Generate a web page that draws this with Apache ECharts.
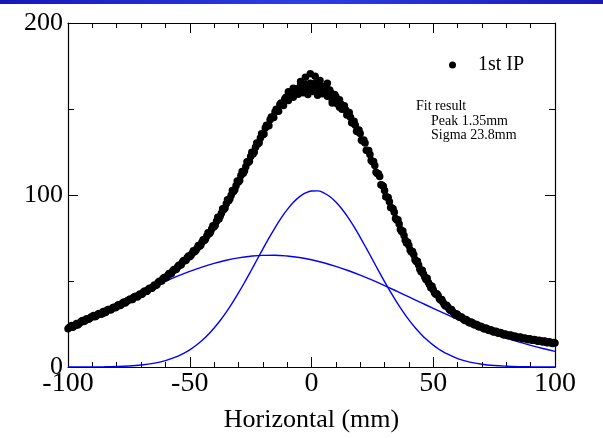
<!DOCTYPE html>
<html><head><meta charset="utf-8">
<script src="https://cdn.jsdelivr.net/npm/echarts@6/dist/echarts.min.js"></script>
<style>html,body{margin:0;padding:0;background:#fff}#c{width:603px;height:438px}</style>
</head><body><div id="c"></div>
<script>
// ---- data ----
const xTicks = [-100, -50, 0, 50, 100];
const yTicks = [0, 100, 200];

// measured positions (mm) of the 1st IP scan, integer steps
const xPos = [
-100,-99,-98,-97,-96,-95,-94,-93,-92,-91,-90,-89,-88,-87,-86,-85,-84,-83,-82,-81,
-80,-79,-78,-77,-76,-75,-74,-73,-72,-71,-70,-69,-68,-67,-66,-65,-64,-63,-62,-61,
-60,-59,-58,-57,-56,-55,-54,-53,-52,-51,-50,-49,-48,-47,-46,-45,-44,-43,-42,-41,
-40,-39,-38,-37,-36,-35,-34,-33,-32,-31,-30,-29,-28,-27,-26,-25,-24,-23,-22,-21,
-20,-19,-18,-17,-16,-15,-14,-13,-12,-11,-10,-9,-8,-7,-6,-5,-4,-3,-2,-1,
0,1,2,3,4,5,6,7,8,9,10,11,12,13,14,15,16,17,18,19,
20,21,22,23,24,25,26,27,28,29,30,31,32,33,34,35,36,37,38,39,
40,41,42,43,44,45,46,47,48,49,50,51,52,53,54,55,56,57,58,59,
60,61,62,63,64,65,66,67,68,69,70,71,72,73,74,75,76,77,78,79,
80,81,82,83,84,85,86,87,88,89,90,91,92,93,94,95,96,97,98,99,
100];
const ipCounts = [
22.3,23.4,23.1,24.2,24.4, 25.9,27.1,26.9,28.1,28.3,
29.3,29.2,30.3,31.1,30.9, 31.6,33.0,33.4,33.7,34.8,
35.0,36.2,36.5,37.8,38.0, 39.0,39.2,40.5,41.2,41.6,
42.1,43.6,43.9,45.2,45.8, 46.8,47.4,49.2,49.8,51.3,
51.7,53.4,54.1,55.8,56.5, 58.2,59.1,61.0,61.8,63.6,
64.1,66.2,67.0,69.1,70.2, 72.5,73.6,76.2,77.5,80.3,
81.6,84.8,86.1,89.4,91.5, 94.9,96.6,99.8,102.1,105.4,
107.6,111.3,112.7,116.4,118.9, 122.4,123.9,127.8,129.6,133.1,
135.0,138.9,140.3,143.8,145.2, 148.3,149.1,152.6,152.9,155.8,
155.4,158.7,157.5,160.8,159.6, 162.3,159.8,163.5,161.2,164.1,
161.0,164.6,162.0,160.7,163.3, 160.2,162.4,158.1,159.3,156.4,
157.2,154.0,153.1,150.6,149.5, 146.6,145.2,141.9,140.6,136.8,
135.8,131.4,130.2,125.9,123.6, 119.4,117.2,112.5,110.8,105.7,
102.6,98.9,96.1,92.4,89.9, 85.4,83.2,78.8,76.5,72.1,
70.6,66.9,65.2,61.4,59.3, 55.4,54.1,50.9,49.2,46.1,
44.9,42.3,41.5,38.9,37.6, 35.5,34.9,32.8,32.1,30.3,
30.4,28.8,28.5,27.1,26.9, 25.6,25.9,24.4,24.6,23.2,
23.3,22.1,22.4,21.2,21.3, 20.3,20.7,19.6,19.8,18.6,
18.9,18.2,18.4,17.5,17.6, 17.0,17.3,16.4,16.6,15.8,
16.2,15.5,15.7,14.9,15.2, 14.6,14.9,14.1,14.4,13.7,
13.9];
// readings at the half-mm positions
const xHalf = [
-99.5,-98.5,-97.5,-96.5,-95.5,-94.5,-93.5,-92.5,-91.5,-90.5,
-89.5,-88.5,-87.5,-86.5,-85.5,-84.5,-83.5,-82.5,-81.5,-80.5,
-79.5,-78.5,-77.5,-76.5,-75.5,-74.5,-73.5,-72.5,-71.5,-70.5,
-69.5,-68.5,-67.5,-66.5,-65.5,-64.5,-63.5,-62.5,-61.5,-60.5,
-59.5,-58.5,-57.5,-56.5,-55.5,-54.5,-53.5,-52.5,-51.5,-50.5,
-49.5,-48.5,-47.5,-46.5,-45.5,-44.5,-43.5,-42.5,-41.5,-40.5,
-39.5,-38.5,-37.5,-36.5,-35.5,-34.5,-33.5,-32.5,-31.5,-30.5,
-29.5,-28.5,-27.5,-26.5,-25.5,-24.5,-23.5,-22.5,-21.5,-20.5,
-19.5,-18.5,-17.5,-16.5,-15.5,-14.5,-13.5,-12.5,-11.5,-10.5,
-9.5,-8.5,-7.5,-6.5,-5.5,-4.5,-3.5,-2.5,-1.5,-0.5,
0.5,1.5,2.5,3.5,4.5,5.5,6.5,7.5,8.5,9.5,
10.5,11.5,12.5,13.5,14.5,15.5,16.5,17.5,18.5,19.5,
20.5,21.5,22.5,23.5,24.5,25.5,26.5,27.5,28.5,29.5,
30.5,31.5,32.5,33.5,34.5,35.5,36.5,37.5,38.5,39.5,
40.5,41.5,42.5,43.5,44.5,45.5,46.5,47.5,48.5,49.5,
50.5,51.5,52.5,53.5,54.5,55.5,56.5,57.5,58.5,59.5,
60.5,61.5,62.5,63.5,64.5,65.5,66.5,67.5,68.5,69.5,
70.5,71.5,72.5,73.5,74.5,75.5,76.5,77.5,78.5,79.5,
80.5,81.5,82.5,83.5,84.5,85.5,86.5,87.5,88.5,89.5,
90.5,91.5,92.5,93.5,94.5,95.5,96.5,97.5,98.5,99.5];
const ipHalf = [
22.9,24.1,23.8,25.3,25.1,26.6,26.4,27.9,27.7,29.1,
29.9,29.5,30.9,30.7,32.2,31.8,33.4,33.2,34.6,34.5,
36.0,35.8,37.4,37.2,38.6,39.5,39.3,41.0,40.7,42.5,
42.5,44.2,44.0,45.8,45.8,47.7,47.8,49.9,50.0,52.1,
52.2,54.4,54.4,56.7,56.8,59.2,59.4,61.9,62.0,64.6,
64.8,67.6,67.8,70.7,70.8,74.0,74.4,78.0,78.4,82.1,
82.6,87.0,87.6,92.0,92.5,97.2,97.8,102.6,103.1,108.1,
108.5,113.6,114.1,119.3,119.6,124.8,125.0,130.3,130.4,135.6,
135.5,140.6,140.3,145.4,145.0,149.9,148.7,153.5,152.0,156.9,
155.0,159.6,156.8,161.7,158.6,163.6,159.4,164.3,160.0,165.0,
160.2,164.8,159.6,164.0,158.9,162.9,157.4,161.0,155.3,158.4,
153.1,155.4,149.9,151.9,146.5,148.0,142.0,142.9,137.1,137.8,
131.9,132.0,126.0,125.9,120.1,119.5,113.2,112.4,106.0,105.1,
99.0,98.5,92.7,92.0,86.4,85.6,80.0,79.1,73.7,72.6,
68.0,67.1,62.4,61.5,56.9,56.2,52.3,51.6,47.8,46.9,
43.1,42.6,39.7,39.2,36.4,35.9,33.7,33.5,31.3,31.0,
29.2,29.2,27.6,27.6,26.0,26.1,24.8,24.9,23.6,23.7,
22.5,22.7,21.5,21.7,20.5,20.8,19.7,20.0,19.0,19.2,
18.3,18.6,17.7,18.0,17.1,17.4,16.6,16.9,16.1,16.4,
15.6,16.0,15.2,15.6,14.8,15.1,14.3,14.7,13.9,14.3];
// scattered extra readings around the peak
const peakX = [-4.5,-2.5,-0.5,1.5,3.5,-7.5,6.5,-12.5,11.5,2.5,-1.5,8.5,-9.5];
const peakY = [166,168.5,170.5,169,166.5,162,165,153,151,158,158.5,153.5,160];

// fit curves
const narrowX = [-100,-95,-90,-85,-80,-75,-70,-65,-60,-55,-52.5,-50,-47.5,-45,-42.5,-40,-37.5,-35,-32.5,-30,
-27.5,-25,-22.5,-20,-17.5,-15,-12.5,-10,-7.5,-5,-2.5,0,2.5,5,7.5,10,12.5,15,17.5,20,
22.5,25,27.5,30,32.5,35,37.5,40,42.5,45,47.5,50,52.5,55,60,65,70,75,80,85,90,95,100];
const narrowFit = [0.01,0.03,0.07,0.14,0.30,0.60,1.15,2.10,3.70,6.21,7.92,9.99,12.47,15.39,18.78,22.66,27.05,31.94,37.28,43.05,
49.17,55.53,62.04,68.55,74.91,80.95,86.53,91.48,95.65,98.91,101.17,102.34,102.38,101.30,99.14,95.95,91.85,86.95,81.43,75.41,
69.07,62.57,56.05,49.67,43.53,37.73,32.34,27.42,22.99,19.07,15.64,12.69,10.18,8.08,4.92,2.87,1.60,0.85,0.44,0.21,0.10,0.04,0.02];
const broadX = [-100,-95,-90,-85,-80,-75,-70,-65,-60,-55,-50,-45,-40,-35,-30,-25,-20,-15,-10,-5,
0,5,10,15,20,25,30,35,40,45,50,55,60,65,70,75,80,85,90,95,100];
const broadFit = [24.17,27.12,30.23,33.46,36.76,40.09,43.42,46.69,49.84,52.83,55.59,58.08,60.24,62.04,63.44,64.40,64.92,64.96,64.54,63.67,
62.35,60.64,58.54,56.11,53.40,50.45,47.33,44.08,40.76,37.42,34.11,30.87,27.74,24.75,21.92,19.27,16.83,14.59,12.55,10.73,9.10];

const fitLines = ['Fit result', 'Peak 1.35mm', 'Sigma 23.8mm'];

// ---- chart ----
const serif = '"Liberation Serif","Times New Roman",serif';
const chart = echarts.init(document.getElementById('c'), null, {renderer: 'canvas'});
const scan = xPos.map((x, i) => [x, ipCounts[i]])
  .concat(xHalf.map((x, i) => [x, ipHalf[i]]))
  .concat(peakX.map((x, i) => [x, peakY[i]]));
const pair = (xs, ys) => xs.map((x, i) => [x, ys[i]]);

const axisLine = {onZero: false, lineStyle: {color: '#000', width: 1.2}};
function xAx(pos, labels) {
  return {
    type: 'value', position: pos, min: xTicks[0], max: xTicks[xTicks.length - 1], interval: 50,
    axisLine: axisLine,
    axisTick: {inside: true, length: 10, lineStyle: {color: '#000', width: 1}},
    minorTick: {show: true, splitNumber: 5, length: 5, lineStyle: {color: '#000', width: 1}},
    splitLine: {show: false},
    axisLabel: labels ? {fontFamily: serif, fontSize: 28, color: '#000', margin: 3} : {show: false}
  };
}
function yAx(pos, labels) {
  return {
    type: 'value', position: pos, min: yTicks[0], max: yTicks[yTicks.length - 1], interval: 100,
    axisLine: axisLine,
    axisTick: {inside: true, length: 10, lineStyle: {color: '#000', width: 1}},
    minorTick: {show: true, splitNumber: 2, length: 6, lineStyle: {color: '#000', width: 1}},
    splitLine: {show: false},
    axisLabel: labels ? {fontFamily: serif, fontSize: 26, color: '#000', margin: 5} : {show: false}
  };
}
const xMain = xAx('bottom', true);
xMain.name = 'Horizontal (mm)';
xMain.nameLocation = 'middle';
xMain.nameGap = 40;
xMain.nameTextStyle = {fontFamily: serif, fontSize: 26, color: '#000'};

chart.setOption({
  animation: false,
  backgroundColor: '#fff',
  grid: {left: 68, right: 48, top: 23, bottom: 67},
  xAxis: [xMain, xAx('top', false)],
  yAxis: [yAx('left', true), yAx('right', false)],
  legend: {
    data: ['1st IP'], left: 449, top: 55, padding: 0, icon: 'circle',
    itemWidth: 7, itemHeight: 7,
    textStyle: {fontFamily: serif, fontSize: 20, color: '#000', padding: [0, 0, 0, 17]}
  },
  graphic: [
    {type: 'rect', left: 0, top: 0, shape: {width: 603, height: 4}, silent: true,
     style: {fill: new echarts.graphic.LinearGradient(0, 0, 1, 0, [
       {offset: 0, color: '#1818b8'}, {offset: 0.5, color: '#2c3ee6'}, {offset: 1, color: '#1a1ab4'}])}},
    {type: 'text', x: 416, y: 106, style: {text: fitLines[0], font: '14px ' + serif, fill: '#000', verticalAlign: 'middle'}},
    {type: 'text', x: 431, y: 121, style: {text: fitLines[1], font: '14px ' + serif, fill: '#000', verticalAlign: 'middle'}},
    {type: 'text', x: 431, y: 135, style: {text: fitLines[2], font: '14px ' + serif, fill: '#000', verticalAlign: 'middle'}}
  ],
  series: [
    {name: 'narrow fit', type: 'line', data: pair(narrowX, narrowFit), smooth: 0.4, showSymbol: false, symbol: 'none',
     lineStyle: {color: '#0000ff', width: 1.4}, z: 2},
    {name: 'broad fit', type: 'line', data: pair(broadX, broadFit), smooth: 0.4, showSymbol: false, symbol: 'none',
     lineStyle: {color: '#0000ff', width: 1.4}, z: 2},
    {name: '1st IP', type: 'scatter', data: scan, symbol: 'circle', symbolSize: 7.5,
     itemStyle: {color: '#000', opacity: 1}, z: 3}
  ]
});
</script></body></html>
